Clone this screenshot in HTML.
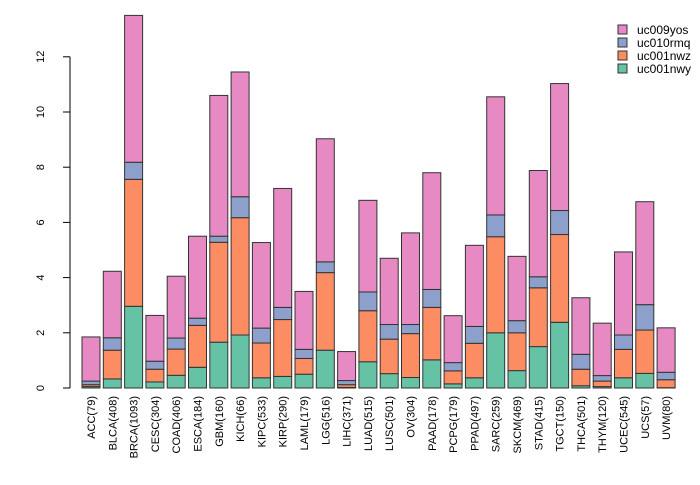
<!DOCTYPE html>
<html><head><meta charset="utf-8"><style>
body{margin:0;background:#fff}
svg{font-family:"Liberation Sans",sans-serif;font-size:11px}
</style></head><body>
<svg id="chart" width="700" height="480" xmlns="http://www.w3.org/2000/svg"></svg>
<script>
const categories=["ACC(79)","BLCA(408)","BRCA(1093)","CESC(304)","COAD(406)","ESCA(184)","GBM(160)","KICH(66)","KIPC(533)","KIRP(290)","LAML(179)","LGG(516)","LIHC(371)","LUAD(515)","LUSC(501)","OV(304)","PAAD(178)","PCPG(179)","PPAD(497)","SARC(259)","SKCM(469)","STAD(415)","TGCT(150)","THCA(501)","THYM(120)","UCEC(545)","UCS(57)","UVM(80)"];
const uc001nwy=[.05,.33,2.96,.22,.46,.75,1.66,1.92,.37,.42,.5,1.37,.02,.95,.52,.38,1.02,.15,.37,2.0,.63,1.5,2.38,.08,.05,.37,.53,.01];
const uc001nwz=[.07,1.04,4.6,.46,.95,1.52,3.62,4.25,1.26,2.06,.57,2.81,.1,1.85,1.25,1.59,1.9,.47,1.25,3.48,1.37,2.13,3.18,.6,.2,1.03,1.57,.29];
const uc010rmq=[.13,.45,.62,.29,.4,.26,.22,.76,.54,.44,.33,.39,.15,.68,.53,.33,.65,.3,.61,.79,.44,.4,.87,.54,.2,.52,.92,.27];
const uc009yos=[1.6,2.41,5.32,1.66,2.24,2.97,5.1,4.52,3.1,4.31,2.1,4.46,1.05,3.32,2.4,3.32,4.23,1.7,2.94,4.28,2.33,3.85,4.6,2.05,1.9,3.01,3.73,1.61];
const yTicks=[0,2,4,6,8,10,12];
const seriesNames=["uc001nwy","uc001nwz","uc010rmq","uc009yos"];
const seriesData=[uc001nwy,uc001nwz,uc010rmq,uc009yos];
const colors=["#66c2a5","#fc8d62","#8da0cb","#e78ac3"];
const svg=document.getElementById('chart');
const NS="http://www.w3.org/2000/svg";
const y=v=>388-v*27.6;
const x=i=>82+i*21.3;
const bw=18;
function mk(t,a){const e=document.createElementNS(NS,t);for(const k in a)e.setAttribute(k,a[k]);svg.appendChild(e);return e;}
let ax=mk('line',{x1:70,x2:70,y1:y(0),y2:y(12),stroke:'#000'});


yTicks.forEach(t=>{
  let tk=mk('line',{x1:63,x2:70,y1:y(t),y2:y(t),stroke:'#000'});
  
  
  let tx=mk('text',{x:0,y:0,'text-anchor':'middle',transform:`translate(44,${y(t)}) rotate(-90)`});
  tx.textContent=t;
  
  
});
categories.forEach((c,i)=>{
  let cum=0;
  seriesData.forEach((s,j)=>{
    const v=s[i];
    let r=mk('rect',{x:x(i),y:y(cum+v),width:bw,height:v*27.6,fill:colors[j],stroke:'#333','stroke-width':1});
    
    
    cum+=v;
  });
  let tx=mk('text',{x:0,y:0,'text-anchor':'end',transform:`translate(${x(i)+bw/2+4},396) rotate(-90)`});
  tx.textContent=c;
  
  
});
[3,2,1,0].forEach((j,k)=>{
  const ly=30+k*13;
  let r=mk('rect',{x:618,y:ly-5,width:9,height:9,fill:colors[j],stroke:'#333'});
  
  
  let t=mk('text',{x:637,y:ly+4,'font-size':'12px'});
  t.textContent=seriesNames[j];
  
  
});
</script>
</body></html>
